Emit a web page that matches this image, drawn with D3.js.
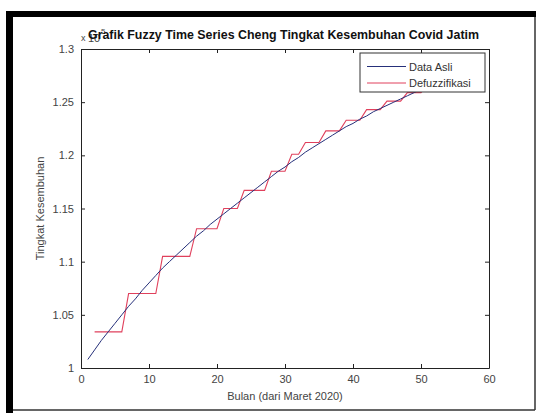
<!DOCTYPE html>
<html>
<head>
<meta charset="utf-8">
<script src="https://cdn.jsdelivr.net/npm/d3@7"></script>
<style>
  html, body { margin: 0; padding: 0; background: #fff; }
  svg { display: block; }
  text { font-family: "Liberation Sans", Arial, sans-serif; }
</style>
</head>
<body>
<svg id="chart" width="539" height="413"></svg>
<script>
// Grafik FTS Cheng (nilai asli, skala x10^5)

// bulan ke-1 .. ke-52 (dari Maret 2020)
const dataAsli = [
  100800, 101700, 102600, 103400, 104200, 105000, 105800, 106500, 107300, 108000,
  108700, 109400, 110000, 110600, 111200, 111800, 112400, 112900, 113500, 114000,
  114500, 115000, 115500, 116000, 116500, 117000, 117500, 118000, 118500, 118900,
  119400, 119800, 120300, 120700, 121100, 121500, 121900, 122300, 122700, 123000,
  123400, 123700, 124100, 124400, 124700, 125000, 125300, 125600, 125900, 126200,
  126500, 126800
];

// defuzzifikasi mulai bulan ke-2
const defuzzifikasi = [
  103400, 103400, 103400, 103400, 103400,
  107000, 107000, 107000, 107000, 107000,
  110500, 110500, 110500, 110500, 110500,
  113100, 113100, 113100, 113100,
  115000, 115000, 115000,
  116700, 116700, 116700, 116700,
  118500, 118500, 118500,
  120100, 120100,
  121200, 121200, 121200,
  122300, 122300, 122300,
  123300, 123300, 123300,
  124300, 124300, 124300,
  125100, 125100, 125100,
  125900, 125900, 125900,
  126600, 126600
];

const xTicks = [0, 10, 20, 30, 40, 50, 60];
const yTicks = [100000, 105000, 110000, 115000, 120000, 125000, 130000];
const legendLabels = ['Data Asli', 'Defuzzifikasi'];

const judul = 'Grafik Fuzzy Time Series Cheng Tingkat Kesembuhan Covid Jatim';
const labelX = 'Bulan (dari Maret 2020)';
const labelY = 'Tingkat Kesembuhan';

const W = 539, H = 413;
const plot = { left: 81, right: 489, top: 49, bottom: 368 };

const svg = d3.select('#chart');

// bingkai luar (kiri/atas tebal, kanan/bawah tipis)
svg.append('rect').attr('x', 0).attr('y', 0).attr('width', W).attr('height', H).attr('fill', '#fff');
svg.append('line').attr('x1', 535).attr('x2', 535).attr('y1', 14).attr('y2', 410)
  .attr('stroke', '#333').attr('stroke-width', 1.5);
svg.append('line').attr('x1', 10).attr('x2', 535).attr('y1', 410).attr('y2', 410)
  .attr('stroke', '#333').attr('stroke-width', 1.5);
svg.append('rect').attr('x', 6).attr('y', 11).attr('width', 530).attr('height', 6).attr('fill', '#000');
svg.append('rect').attr('x', 6).attr('y', 11).attr('width', 7).attr('height', H - 11).attr('fill', '#000');

const x = d3.scaleLinear().domain([0, 60]).range([plot.left, plot.right]);
const y = d3.scaleLinear().domain([100000, 130000]).range([plot.bottom, plot.top]);
const fmtY = d => String(+(d / 1e5).toFixed(2));

// sumbu (tick ke dalam, empat sisi)
const axisStyle = g => {
  g.select('.domain').attr('stroke', '#222').attr('stroke-width', 1);
  g.selectAll('.tick line').attr('stroke', '#222');
  g.selectAll('.tick text').attr('fill', '#444').attr('font-size', 11)
    .attr('font-family', '"Liberation Sans", Arial, sans-serif');
};

svg.append('g').attr('transform', `translate(0,${plot.bottom})`)
  .call(d3.axisBottom(x).tickValues(xTicks).tickSize(-4).tickSizeOuter(0).tickPadding(7))
  .call(axisStyle);
svg.append('g').attr('transform', `translate(0,${plot.top})`)
  .call(d3.axisTop(x).tickValues(xTicks).tickSize(-4).tickSizeOuter(0).tickFormat(''))
  .call(axisStyle);
svg.append('g').attr('transform', `translate(${plot.left},0)`)
  .call(d3.axisLeft(y).tickValues(yTicks).tickSize(-4).tickSizeOuter(0).tickPadding(7).tickFormat(fmtY))
  .call(axisStyle);
svg.append('g').attr('transform', `translate(${plot.right},0)`)
  .call(d3.axisRight(y).tickValues(yTicks).tickSize(-4).tickSizeOuter(0).tickFormat(''))
  .call(axisStyle);

// garis data
const lineAsli = d3.line().x((d, i) => x(i + 1)).y(d => y(d));
const lineDefuz = d3.line().x((d, i) => x(i + 2)).y(d => y(d));

svg.append('path').datum(defuzzifikasi)
  .attr('fill', 'none').attr('stroke', '#e0405c').attr('stroke-width', 1.1)
  .attr('d', lineDefuz);
svg.append('path').datum(dataAsli)
  .attr('fill', 'none').attr('stroke', '#26307a').attr('stroke-width', 1)
  .attr('d', lineAsli);

// legenda
const leg = svg.append('g').attr('transform', 'translate(360,53)');
leg.append('rect').attr('x', 0).attr('y', 0).attr('width', 125).attr('height', 39)
  .attr('fill', '#fff').attr('stroke', '#333').attr('stroke-width', 1);
const legColors = ['#26307a', '#e0405c'];
legendLabels.forEach((lbl, i) => {
  const cy = 13.5 + i * 16.5;
  leg.append('line').attr('x1', 7).attr('x2', 46).attr('y1', cy).attr('y2', cy)
    .attr('stroke', legColors[i]).attr('stroke-width', 1);
  leg.append('text').attr('x', 49).attr('y', cy + 4).attr('font-size', 11)
    .attr('fill', '#333').text(lbl);
});

// eksponen x10^5
svg.append('text').attr('x', 81).attr('y', 41).attr('font-size', 9).attr('fill', '#444').text('x');
svg.append('text').attr('x', 88).attr('y', 42).attr('font-size', 11).attr('fill', '#444').text('10');
svg.append('text').attr('x', 101).attr('y', 34).attr('font-size', 8).attr('fill', '#444').text('5');

// judul
svg.append('text').attr('x', 88).attr('y', 39)
  .attr('font-size', 12).attr('font-weight', 'bold').attr('fill', '#111')
  .attr('textLength', 391).attr('lengthAdjust', 'spacingAndGlyphs')
  .text(judul);

// label sumbu
svg.append('text').attr('x', (plot.left + plot.right) / 2).attr('y', 400)
  .attr('text-anchor', 'middle').attr('font-size', 11).attr('fill', '#444').text(labelX);
svg.append('text').attr('transform', `translate(44,${(plot.top + plot.bottom) / 2}) rotate(-90)`)
  .attr('text-anchor', 'middle').attr('font-size', 11).attr('fill', '#444').text(labelY);
</script>
</body>
</html>
